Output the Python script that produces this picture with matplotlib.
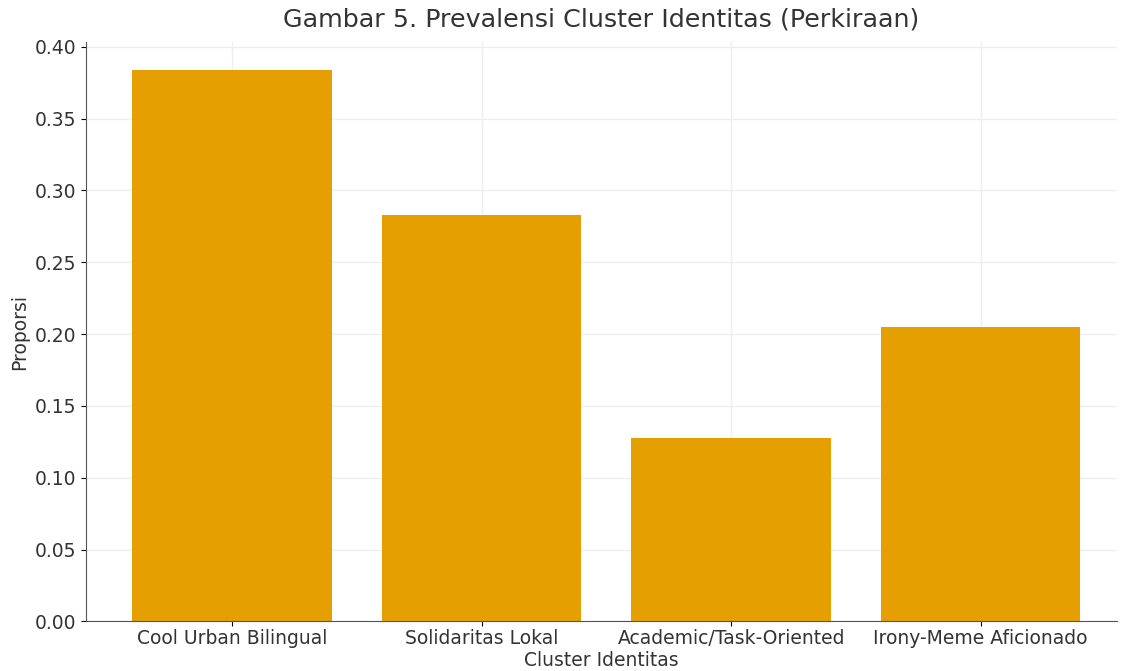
import numpy as np
import matplotlib.pyplot as plt

# Données
clusters = ['Cool Urban Bilingual', 'Solidaritas Lokal',
            'Academic/Task-Oriented', 'Irony-Meme Aficionado']
proporsi = [0.384, 0.283, 0.128, 0.205]

fig = plt.figure(figsize=(11.21, 6.71), dpi=100)
ax = fig.add_axes([0.077, 0.074, 0.919, 0.863])

x = np.arange(len(clusters))
ax.bar(x, proporsi, width=0.8, color='#E69F00', zorder=2)

ax.set_xticks(x)
ax.set_xticklabels(clusters, fontsize=13.5, color='#333333')
ax.tick_params(axis='y', labelsize=13.5, labelcolor='#333333')
ax.tick_params(axis='x', pad=2)
ax.set_yticks(np.arange(0, 0.401, 0.05))
ax.yaxis.set_major_formatter(plt.FormatStrFormatter('%.2f'))
ax.set_xlim(-0.585, 3.545)

ax.set_xlabel('Cluster Identitas', fontsize=13.5, color='#333333', labelpad=2)
ax.set_ylabel('Proporsi', fontsize=13.5, color='#333333', labelpad=4)
ax.set_title('Gambar 5. Prevalensi Cluster Identitas (Perkiraan)',
             fontsize=18.3, color='#333333', pad=11)

ax.grid(True, color='#eeeeee', linewidth=1, zorder=0)
ax.set_axisbelow(True)
for s in ['top', 'right']:
    ax.spines[s].set_visible(False)
for s in ['left', 'bottom']:
    ax.spines[s].set_color('#555555')

fig.savefig('out.png')
